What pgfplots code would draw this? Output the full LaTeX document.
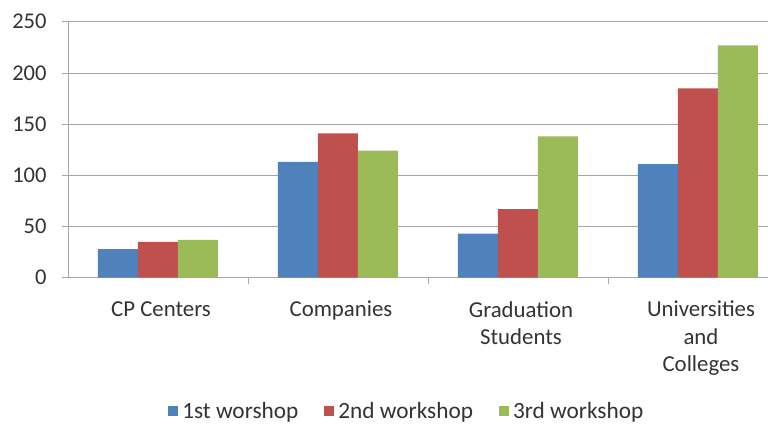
\documentclass[border=0pt]{standalone}
\usepackage{fontspec}
\setmainfont{Carlito}
\usepackage{pgfplots}
\pgfplotsset{compat=1.18}
\definecolor{b1}{HTML}{4F81BD}
\definecolor{r1}{HTML}{C0504D}
\definecolor{g1}{HTML}{9BBB59}
\definecolor{ax}{HTML}{A6A6A6}
\begin{document}
\begin{tikzpicture}
\useasboundingbox (0pt,0pt) rectangle (768pt,423pt);
\begin{axis}[
 at={(68pt,145.3pt)}, anchor=south west,
 scale only axis, width=700pt, height=256pt,
 xmin=-0.5, xmax=3.389, ymin=0, ymax=250,
 ybar=0pt, bar width=40pt,
 axis x line*=bottom, axis y line*=left,
 axis line style={draw=ax, line width=0.8pt, -},
 ymajorgrids, grid style={draw=ax, line width=0.8pt},
 ytick={0,50,...,250},
 tick align=outside,
 major tick length=6pt,
 tick style={draw=ax, line width=0.8pt},
 xtick={0.5,1.5,2.5}, xticklabels={},
 extra x ticks={0,1,2,3},
 extra x tick labels={CP Centers, Companies, {Graduation\\Students}, {Universities\\and\\Colleges}},
 extra x tick style={major tick length=0pt, xticklabel style={align=center, anchor=north, yshift=-20pt, xshift=3pt}},
 xticklabel style={font=\fontsize{22.8}{27.5}\selectfont, text=black!80},
 yticklabel style={font=\fontsize{22.5}{26}\selectfont, text=black!80, xshift=-12pt},
 /pgf/number format/assume math mode=true,
 legend style={at={(0.484,-0.52)}, anchor=center, legend columns=-1, draw=none,
   font=\fontsize{23.3}{25}\selectfont, text=black!80},
 legend image code/.code={\fill[#1] (0pt,-5pt) rectangle (10pt,5pt); \path (12pt,0pt);},
]
\addplot[fill=b1, draw=none] coordinates {(0,28) (1,113) (2,43) (3,111)};
\addplot[fill=r1, draw=none] coordinates {(0,35) (1,141) (2,67) (3,185)};
\addplot[fill=g1, draw=none] coordinates {(0,37) (1,124) (2,138) (3,227)};
\legend{1st worshop\rule{24pt}{0pt}, 2nd workshop\rule{24pt}{0pt}, 3rd workshop}
\end{axis}
\end{tikzpicture}
\end{document}
